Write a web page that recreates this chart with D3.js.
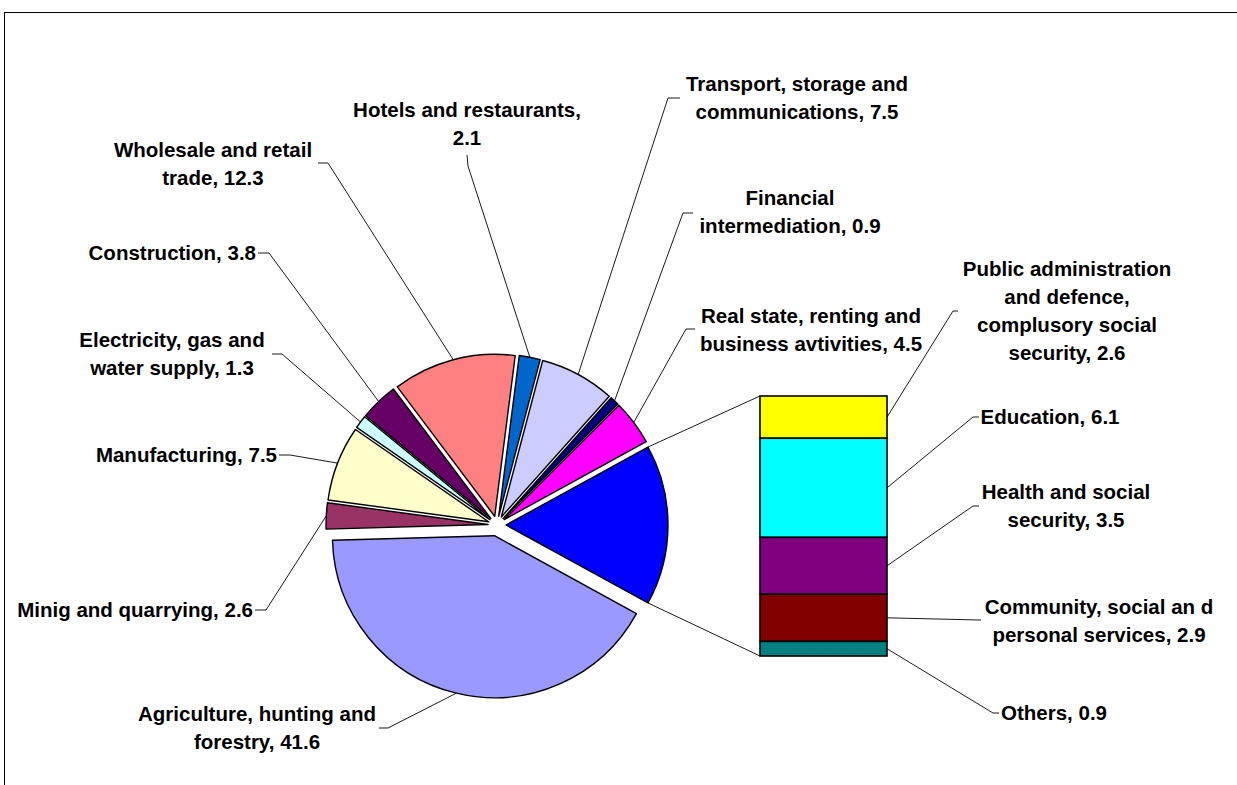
<!DOCTYPE html>
<html><head><meta charset="utf-8">
<script src="https://cdn.jsdelivr.net/npm/d3@7"></script>
<style>
body{margin:0;background:#fff}
svg{display:block}
text{font-family:"Liberation Sans",Arial,sans-serif;font-weight:bold;font-size:20.5px;fill:#000}
</style>
</head><body>
<svg id="chart" width="1237" height="785"></svg>
<script>
// ---- data ----
const pieCategories = ["Agriculture, hunting and forestry","Minig and quarrying","Manufacturing","Electricity, gas and water supply","Construction","Wholesale and retail trade","Hotels and restaurants","Transport, storage and communications","Financial intermediation","Real state, renting and business avtivities"];
const pieValues = [41.6, 2.6, 7.5, 1.3, 3.8, 12.3, 2.1, 7.5, 0.9, 4.5];
const pieLabelLines = [
  ["Agriculture, hunting and","forestry, 41.6"],
  ["Minig and quarrying, 2.6"],
  ["Manufacturing, 7.5"],
  ["Electricity, gas and","water supply, 1.3"],
  ["Construction, 3.8"],
  ["Wholesale and retail","trade, 12.3"],
  ["Hotels and restaurants,","2.1"],
  ["Transport, storage and","communications, 7.5"],
  ["Financial","intermediation, 0.9"],
  ["Real state, renting and","business avtivities, 4.5"]
];
const barCategories = ["Public administration and defence, complusory social security","Education","Health and social security","Community, social an d personal services","Others"];
const barValues = [2.6, 6.1, 3.5, 2.9, 0.9];
const barLabelLines = [
  ["Public administration","and defence,","complusory social","security, 2.6"],
  ["Education, 6.1"],
  ["Health and social","security, 3.5"],
  ["Community, social an d","personal services, 2.9"],
  ["Others, 0.9"]
];

// ---- styles ----
const pieColors = ["#9999FF","#993366","#FFFFCC","#CCFFFF","#660066","#FF8080","#0066CC","#CCCCFF","#000080","#FF00FF","#0000FF"];
const barColors = ["#FFFF00","#00FFFF","#800080","#800000","#008080"];

// ---- layout ----
const cx0 = 497, cy0 = 525, R = 162;
const explode = [11,9,9,9,9,9,9,9,9,9,9];
const lineH = 28;
const pieLabelLayout = [
  {x:257, y:728, anchor:"middle", lead:[[379,728],[388,728]]},
  {x:253, y:610, anchor:"end",    lead:[[255,610],[266,610]]},
  {x:277, y:455, anchor:"end",    lead:[[279,455],[290,455]]},
  {x:172, y:354, anchor:"middle", lead:[[272,354],[282,354]]},
  {x:256, y:253, anchor:"end",    lead:[[258,253],[269,253]]},
  {x:213, y:164, anchor:"middle", lead:[[318,163],[328,163]]},
  {x:467, y:124, anchor:"middle", lead:[[467,155],[468,166]]},
  {x:797, y:98,  anchor:"middle", lead:[[680,98],[668,98]]},
  {x:790, y:212, anchor:"middle", lead:[[693,213],[683,213]]},
  {x:811, y:330, anchor:"middle", lead:[[695,329],[686,329]]}
];
const barX0 = 760, barX1 = 887, barTop = 396, barBottom = 656;
const barLabelLayout = [
  {x:1067, y:311, lead:[[958,311],[953,311]]},
  {x:1050, y:417, lead:[[979,417],[973,417]]},
  {x:1066, y:506, lead:[[979,506],[973,506]]},
  {x:1099, y:621, lead:[[981,620],[979,620]]},
  {x:1054, y:713, lead:[[999,713],[993,713]]}
];

const svg = d3.select("#chart");
// frame
svg.append("rect").attr("x",4.5).attr("y",12.5).attr("width",1400).attr("height",900)
  .attr("fill","none").attr("stroke","#000").attr("stroke-width",1);

const othersTotal = d3.sum(barValues);
const allValues = pieValues.concat([othersTotal]);
const total = d3.sum(allValues);
const othersAngle = othersTotal/total*2*Math.PI;
const start = Math.PI/2 + othersAngle/2;
const pie = d3.pie().sort(null).value(d=>d).startAngle(start).endAngle(start+2*Math.PI);
const arcs = pie(allValues);
const arc = d3.arc().innerRadius(0).outerRadius(R);

function sliceCenter(d,i){
  const m = (d.startAngle+d.endAngle)/2;
  return [cx0 + explode[i]*Math.sin(m), cy0 - explode[i]*Math.cos(m)];
}
function polar(c, a, r){ return [c[0] + r*Math.sin(a), c[1] - r*Math.cos(a)]; }

const line = d3.line();

// pie leader lines
const gLead = svg.append("g").attr("fill","none").attr("stroke","#000").attr("stroke-width",0.9);
arcs.slice(0, pieValues.length).forEach((d,i)=>{
  const c = sliceCenter(d,i);
  const end = polar(c, (d.startAngle+d.endAngle)/2, R);
  const L = pieLabelLayout[i];
  gLead.append("path").attr("d", line([L.lead[0], L.lead[1], end]));
});

// slices
const gPie = svg.append("g");
arcs.forEach((d,i)=>{
  const c = sliceCenter(d,i);
  gPie.append("path").attr("d", arc(d)).attr("transform",`translate(${c[0]},${c[1]})`)
    .attr("fill", pieColors[i]).attr("stroke","#000").attr("stroke-width",1.4).attr("stroke-linejoin","round");
});

// connectors from others slice to bar
const oArc = arcs[arcs.length-1];
const oc = sliceCenter(oArc, arcs.length-1);
const topCorner = polar(oc, oArc.startAngle, R);
const botCorner = polar(oc, oArc.endAngle, R);
gLead.append("path").attr("d", line([[barX0, barTop], topCorner]));
gLead.append("path").attr("d", line([[barX0, barBottom], botCorner]));

// bar (stacked)
const y = d3.scaleLinear().domain([0, othersTotal]).range([barTop, barBottom]);
let cum = 0;
const segs = barValues.map((v,i)=>{ const s = {i, y0:cum, y1:cum+v}; cum += v; return s; });
const gBar = svg.append("g");
segs.forEach(s=>{
  gBar.append("rect").attr("x",barX0).attr("y",y(s.y0)).attr("width",barX1-barX0).attr("height",y(s.y1)-y(s.y0))
    .attr("fill",barColors[s.i]).attr("stroke","#000").attr("stroke-width",1.6);
});
// bar leader lines
segs.forEach(s=>{
  const L = barLabelLayout[s.i];
  const p = [barX1, (y(s.y0)+y(s.y1))/2];
  gLead.append("path").attr("d", line([L.lead[0], L.lead[1], p]));
});

// labels
function drawLabel(lines, L){
  const t = svg.append("text").attr("text-anchor", L.anchor || "middle");
  const n = lines.length;
  lines.forEach((s,k)=>{
    t.append("tspan").attr("x", L.x).attr("y", L.y + (k-(n-1)/2)*lineH).attr("dy","0.36em").text(s);
  });
}
pieLabelLines.forEach((ls,i)=>drawLabel(ls, pieLabelLayout[i]));
barLabelLines.forEach((ls,i)=>drawLabel(ls, barLabelLayout[i]));
</script>
</body></html>
